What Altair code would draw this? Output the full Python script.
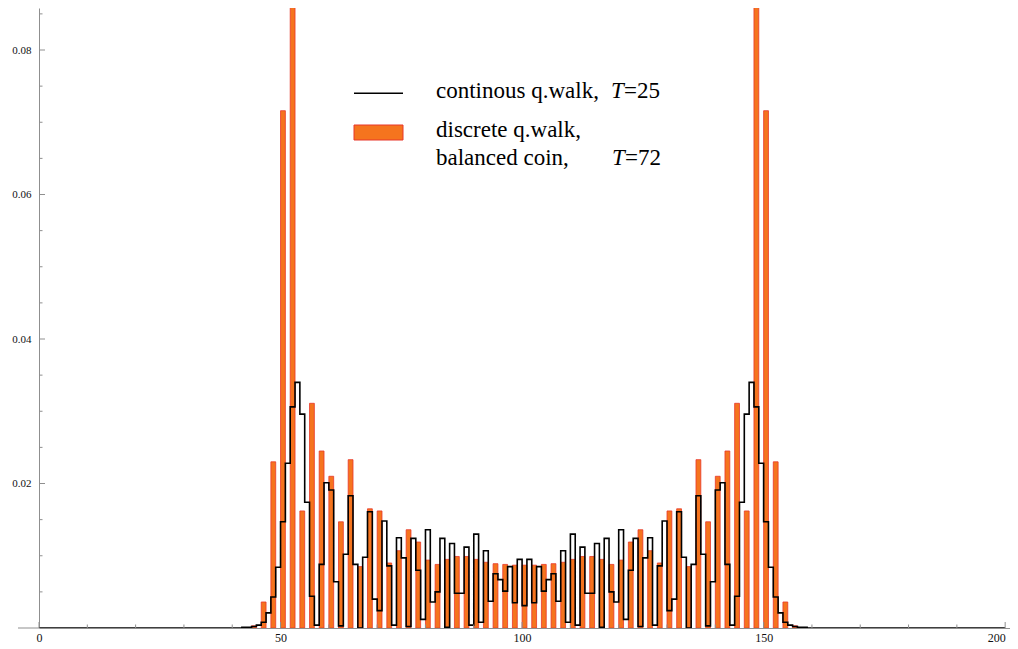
import altair as alt
import pandas as pd

# ---- data ----
# discrete quantum walk (balanced coin, T=72): even sites only
bar_pos = [44, 46, 48, 50, 52, 54, 56, 58, 60, 62, 64, 66, 68, 70, 72, 74, 76, 78, 80,
           82, 84, 86, 88, 90, 92, 94, 96, 98, 100, 102, 104, 106, 108, 110, 112, 114,
           116, 118, 120, 122, 124, 126, 128, 130, 132, 134, 136, 138, 140, 142, 144,
           146, 148, 150, 152, 154, 156]
bar_prob = [0.0003, 0.0036, 0.0230, 0.0716, 0.0861, 0.0162, 0.0311, 0.0245, 0.0210,
            0.0147, 0.0233, 0.0085, 0.0165, 0.0162, 0.0090, 0.0107, 0.0136, 0.0119,
            0.0094, 0.0088, 0.0095, 0.0099, 0.0099, 0.0095, 0.0091, 0.0089, 0.0088,
            0.0087, 0.0087, 0.0087, 0.0088, 0.0089, 0.0091, 0.0095, 0.0099, 0.0099,
            0.0095, 0.0088, 0.0094, 0.0119, 0.0136, 0.0107, 0.0090, 0.0162, 0.0165,
            0.0085, 0.0233, 0.0147, 0.0210, 0.0245, 0.0311, 0.0162, 0.0861, 0.0716,
            0.0230, 0.0036, 0.0003]

# continuous quantum walk (T=25): sites 40..160, zero elsewhere on 0..200
cont_first = 40
cont_prob = [0.0000, 0.0000, 0.0001, 0.0001, 0.0002, 0.0004, 0.0008, 0.0021, 0.0043,
             0.0084, 0.0147, 0.0228, 0.0306, 0.0340, 0.0296, 0.0174, 0.0044, 0.0004,
             0.0088, 0.0201, 0.0191, 0.0064, 0.0003, 0.0102, 0.0183, 0.0088, 0.0000,
             0.0098, 0.0161, 0.0040, 0.0024, 0.0148, 0.0086, 0.0004, 0.0125, 0.0097,
             0.0002, 0.0124, 0.0080, 0.0012, 0.0136, 0.0036, 0.0050, 0.0124, 0.0001,
             0.0117, 0.0048, 0.0048, 0.0112, 0.0004, 0.0130, 0.0008, 0.0107, 0.0037,
             0.0075, 0.0067, 0.0051, 0.0085, 0.0035, 0.0095, 0.0031, 0.0095, 0.0035,
             0.0085, 0.0051, 0.0067, 0.0075, 0.0037, 0.0107, 0.0008, 0.0130, 0.0004,
             0.0112, 0.0048, 0.0048, 0.0117, 0.0001, 0.0124, 0.0050, 0.0036, 0.0136,
             0.0012, 0.0080, 0.0124, 0.0002, 0.0097, 0.0125, 0.0004, 0.0086, 0.0148,
             0.0024, 0.0040, 0.0161, 0.0098, 0.0000, 0.0088, 0.0183, 0.0102, 0.0003,
             0.0064, 0.0191, 0.0201, 0.0088, 0.0004, 0.0044, 0.0174, 0.0296, 0.0340,
             0.0306, 0.0228, 0.0147, 0.0084, 0.0043, 0.0021, 0.0008, 0.0004, 0.0002,
             0.0001, 0.0001, 0.0000, 0.0000]

x_major = [0, 50, 100, 150, 200]
x_minor = [10, 20, 30, 40, 60, 70, 80, 90, 110, 120, 130, 140, 160, 170, 180, 190]
y_major = [0.02, 0.04, 0.06, 0.08]
y_minor = [0.005, 0.01, 0.015, 0.025, 0.03, 0.035, 0.045, 0.05, 0.055,
           0.065, 0.07, 0.075, 0.085]

# ---- tables ----
bars = pd.DataFrame({"x": bar_pos, "p": bar_prob})
bars["x2"] = bars["x"] + 1
bars["zero"] = 0.0

cont_map = {cont_first + i: v for i, v in enumerate(cont_prob)}
steps = pd.DataFrame({"x": list(range(0, 201)),
                      "p": [cont_map.get(i, 0.0) for i in range(0, 201)]})

W, H = 971, 620
XMAX = 201
YMAX = 620 / 7225.0
AX = "#8f8f8f"
FONT = "Liberation Serif"
ORANGE = "#f5741e"
RED = "#e8372b"
FS = 23

xs = alt.Scale(domain=[0, XMAX], nice=False, zero=False)
ys = alt.Scale(domain=[0, YMAX], nice=False)

bar_layer = alt.Chart(bars).mark_rect(
    fill=ORANGE, stroke=RED, strokeWidth=0.8, clip=True
).encode(
    x=alt.X("x:Q", scale=xs,
            axis=alt.Axis(values=x_major, ticks=False, grid=False, title=None,
                          domainColor=AX, labelFont=FONT, labelFontSize=12,
                          labelColor="#111", labelPadding=4,
                          labelAlign={"expr": "datum.value == 200 ? 'right' : 'center'"})),
    x2="x2:Q",
    y=alt.Y("p:Q", scale=ys,
            axis=alt.Axis(values=y_major, format=".2f", ticks=False, tickSize=0,
                          grid=False, title=None, domainColor=AX, labelFont=FONT,
                          labelFontSize=11, labelColor="#111", labelPadding=8)),
    y2="zero:Q",
)

step_layer = alt.Chart(steps).mark_line(
    color="black", strokeWidth=1.6, interpolate="step-after", clip=True
).encode(x=alt.X("x:Q", scale=xs), y=alt.Y("p:Q", scale=ys))

xmaj = alt.Chart(pd.DataFrame({"x": x_major})).mark_rule(color=AX, strokeWidth=1).encode(
    x=alt.X("x:Q", scale=xs), y=alt.value(H), y2=alt.value(H - 6))
xmin = alt.Chart(pd.DataFrame({"x": x_minor})).mark_rule(color=AX, strokeWidth=1).encode(
    x=alt.X("x:Q", scale=xs), y=alt.value(H), y2=alt.value(H - 3.5))
ymaj = alt.Chart(pd.DataFrame({"y": y_major})).mark_rule(color=AX, strokeWidth=1).encode(
    y=alt.Y("y:Q", scale=ys), x=alt.value(0), x2=alt.value(6))
ymin = alt.Chart(pd.DataFrame({"y": y_minor})).mark_rule(color=AX, strokeWidth=1).encode(
    y=alt.Y("y:Q", scale=ys), x=alt.value(0), x2=alt.value(3.5))
xext = alt.Chart(pd.DataFrame({"a": [0]})).mark_rule(color=AX, strokeWidth=1).encode(
    x=alt.value(-21), x2=alt.value(0), y=alt.value(H))

one = pd.DataFrame({"a": [0]})
leg_line = alt.Chart(one).mark_rule(color="black", strokeWidth=1.6).encode(
    x=alt.value(315), x2=alt.value(364), y=alt.value(85.3))
leg_rect = alt.Chart(one).mark_rect(fill=ORANGE, stroke=RED, strokeWidth=1).encode(
    x=alt.value(315), x2=alt.value(364), y=alt.value(117), y2=alt.value(132))


def txt(s, x, y, italic=False):
    return alt.Chart(one).mark_text(
        text=s, align="left", baseline="alphabetic", font=FONT, fontSize=FS,
        fontStyle="italic" if italic else "normal", color="black"
    ).encode(x=alt.value(x), y=alt.value(y))


legend_texts = [
    txt("continous q.walk,", 397, 90.3),
    txt("T", 572, 90.3, italic=True),
    txt("=25", 585, 90.3),
    txt("discrete q.walk,", 397, 128.7),
    txt("balanced coin,", 397, 157),
    txt("T", 573, 157, italic=True),
    txt("=72", 586, 157),
]

chart = alt.layer(
    bar_layer, step_layer, xmaj, xmin, ymaj, ymin, xext, leg_line, leg_rect, *legend_texts
).properties(
    width=W, height=H,
    padding={"left": 31, "top": 0, "right": 0, "bottom": 20},
    autosize=alt.AutoSizeParams(type="none"),
).configure_view(stroke=None)

chart.save("out.html", embed_options={"renderer": "svg", "actions": False})
